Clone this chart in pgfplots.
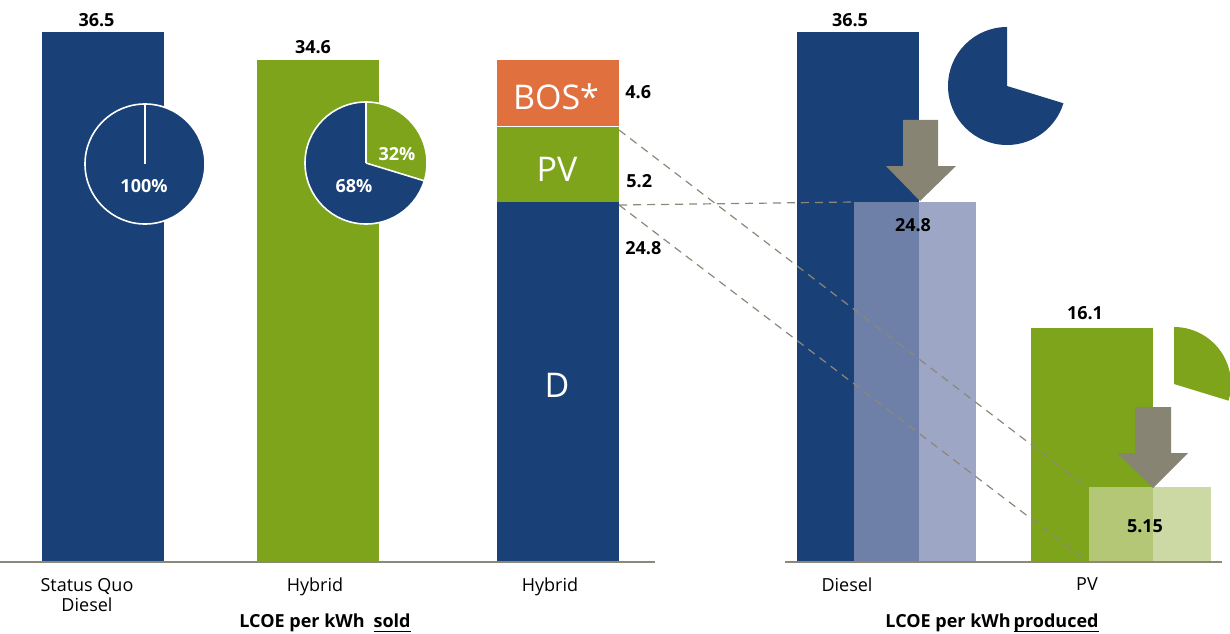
\documentclass[border=0pt]{standalone}
\usepackage{fontspec}
\setmainfont{Open Sans}
\usepackage{pgfplots}
\pgfplotsset{compat=1.18}
\definecolor{dblue}{HTML}{194177}
\definecolor{lgreen}{HTML}{7DA41B}
\definecolor{orng}{HTML}{E1703F}
\definecolor{agrey}{HTML}{878474}
\definecolor{lgrey}{HTML}{8C8878}
\definecolor{ovblue}{HTML}{8490B5}
\definecolor{ovgreen}{HTML}{C1D08F}
\newcommand{\Y}[1]{38.7052-#1*0.0688705}
\newcommand{\vl}{\fontsize{9}{10}\selectfont\bfseries}
\newcommand{\ul}[1]{\underline{\smash{#1}\rule[-1pt]{0pt}{0pt}}}
\begin{document}
\begin{tikzpicture}
\begin{axis}[
  width=615pt, height=316.5pt, scale only axis,
  xmin=0, xmax=1230, ymin=-4.890, ymax=38.705,
  clip=false,
  axis x line=middle, axis y line=none,
  x axis line style={draw=none},
  xtick={87,315,550,847,1087},
  xticklabels={{Status Quo\\Diesel},Hybrid,Hybrid,Diesel,PV},
  xticklabel style={align=center, font=\fontsize{9}{10}\selectfont, anchor=north, yshift=-4.5pt},
  major tick length=0pt, xtick style={draw=none},
  ytick=\empty,
]
% main bars
\addplot[ybar, bar width=122, bar shift=0pt, fill=dblue, draw=none] coordinates {(103,36.5)};
\addplot[ybar, bar width=122, bar shift=0pt, fill=lgreen, draw=none] coordinates {(318,34.6)};
% stacked hybrid (cumulative tops): BOS 4.6, PV 5.2, D 24.8
\addplot[ybar, bar width=122, bar shift=0pt, fill=orng, draw=none] coordinates {(558,34.6)};
\addplot[ybar, bar width=122, bar shift=0pt, fill=lgreen, draw=none] coordinates {(558,30.0)};
\addplot[ybar, bar width=122, bar shift=0pt, fill=dblue, draw=none] coordinates {(558,24.8)};
\draw[white, line width=0.75pt] (axis cs:497,30) -- (axis cs:619,30);
% produced
\addplot[ybar, bar width=122, bar shift=0pt, fill=dblue, draw=none] coordinates {(858,36.5)};
\addplot[ybar, bar width=122, bar shift=0pt, fill=ovblue, fill opacity=0.8, draw=none] coordinates {(915,24.8)};
\addplot[ybar, bar width=122, bar shift=0pt, fill=lgreen, draw=none] coordinates {(1092,16.1)};
\addplot[ybar, bar width=122, bar shift=0pt, fill=ovgreen, fill opacity=0.8, draw=none] coordinates {(1150,5.15)};
% dashed connectors
\draw[lgrey, line width=0.6pt, dash pattern=on 4pt off 3pt] (axis cs:619,\Y{130}) -- (axis cs:1088,\Y{488});
\draw[lgrey, line width=0.6pt, dash pattern=on 4pt off 3pt] (axis cs:619,\Y{205}) -- (axis cs:854,\Y{202});
\draw[lgrey, line width=0.6pt, dash pattern=on 4pt off 3pt] (axis cs:619,\Y{205}) -- (axis cs:1088,\Y{562});
% baselines
\draw[lgrey, line width=0.75pt] (axis cs:0,0) -- (axis cs:655,0);
\draw[lgrey, line width=0.75pt] (axis cs:785,0) -- (axis cs:1222,0);
% arrows
\fill[agrey] (axis cs:903,\Y{120}) -- (axis cs:938,\Y{120}) -- (axis cs:938,\Y{166}) -- (axis cs:956,\Y{166}) -- (axis cs:920,\Y{201}) -- (axis cs:886,\Y{166}) -- (axis cs:903,\Y{166}) -- cycle;
\fill[agrey] (axis cs:1135,\Y{407}) -- (axis cs:1171,\Y{407}) -- (axis cs:1171,\Y{453}) -- (axis cs:1188,\Y{453}) -- (axis cs:1153,\Y{488}) -- (axis cs:1117,\Y{453}) -- (axis cs:1135,\Y{453}) -- cycle;
% pies
\fill[dblue] (axis cs:145,\Y{164}) circle[radius=30pt];
\draw[white, line width=0.8pt] (axis cs:145,\Y{164}) circle[radius=30pt];
\draw[white, line width=0.8pt] (axis cs:145,\Y{164}) -- ++(90:30pt);
\fill[dblue] (axis cs:366,\Y{163}) circle[radius=30.5pt];
\fill[lgreen] (axis cs:366,\Y{163}) -- ++(90:30.5pt) arc[start angle=90, end angle=-17, radius=30.5pt] -- cycle;
\draw[white, line width=0.8pt] (axis cs:366,\Y{163}) circle[radius=30.5pt];
\draw[white, line width=0.8pt] (axis cs:366,\Y{163}) -- ++(90:30.5pt);
\draw[white, line width=0.8pt] (axis cs:366,\Y{163}) -- ++(-17:30.5pt);
\fill[dblue] (axis cs:1007,\Y{86}) -- ++(90:29.5pt) arc[start angle=90, end angle=343, radius=29.5pt] -- cycle;
\fill[lgreen] (axis cs:1174,\Y{384}) -- ++(90:28.5pt) arc[start angle=90, end angle=-17, radius=28.5pt] -- cycle;
% value labels
\begin{scope}[every node/.style={inner sep=0pt, font=\vl}]
\node[anchor=base] at (axis cs:96.5,\Y{27}) {36.5};
\node[anchor=base] at (axis cs:313,\Y{54}) {34.6};
\node[anchor=base] at (axis cs:850,\Y{27}) {36.5};
\node[anchor=base] at (axis cs:913,\Y{231}) {24.8};
\node[anchor=base] at (axis cs:1085,\Y{319}) {16.1};
\node[anchor=base] at (axis cs:1145,\Y{532}) {5.15};
\node[anchor=base west] at (axis cs:625,\Y{98}) {4.6};
\node[anchor=base west] at (axis cs:626,\Y{187}) {5.2};
\node[anchor=base west] at (axis cs:625,\Y{254}) {24.8};
\node[anchor=base, text=white] at (axis cs:144,\Y{192}) {100\%};
\node[anchor=base, text=white] at (axis cs:354,\Y{192}) {68\%};
\node[anchor=base, text=white] at (axis cs:397,\Y{160}) {32\%};
\end{scope}
\begin{scope}[every node/.style={inner sep=0pt, font=\fontsize{17}{17}\selectfont, text=white}]
\node[anchor=base] at (axis cs:556,\Y{110}) {BOS*};
\node[anchor=base] at (axis cs:557,\Y{181}) {PV};
\node[anchor=base] at (axis cs:557,\Y{397}) {D};
\end{scope}
\node[anchor=base, inner sep=0pt, font=\vl] at (axis cs:325,\Y{627}) {LCOE per kWh\enspace\ul{sold}};
\node[anchor=base, inner sep=0pt, font=\vl] at (axis cs:992,\Y{627}) {LCOE per kWh\,\ul{produced}};
\end{axis}
\pgfresetboundingbox
\path (current axis.south west) rectangle (current axis.north east);
\end{tikzpicture}
\end{document}
